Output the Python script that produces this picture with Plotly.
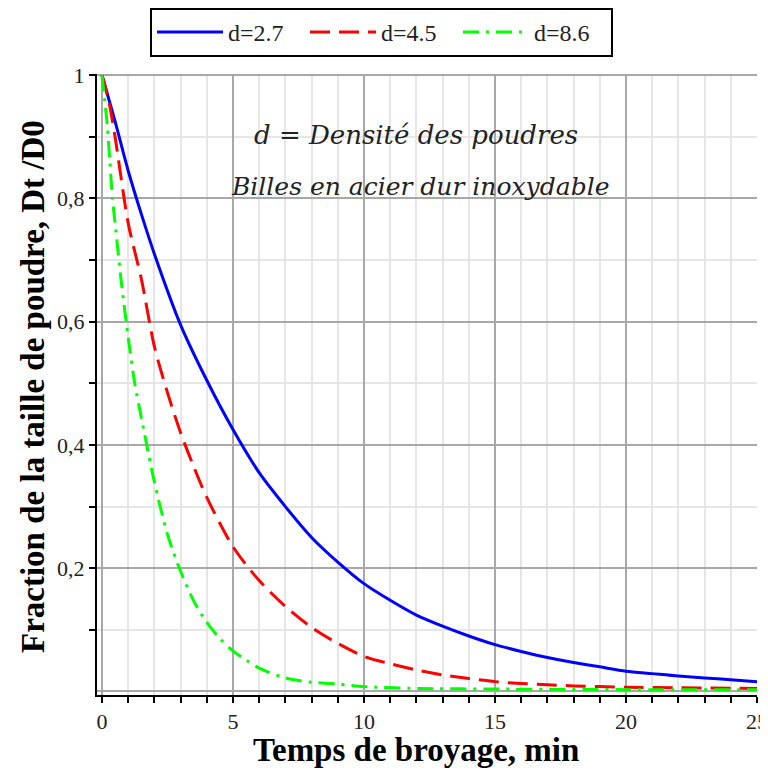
import plotly.graph_objects as go

# ---- data ----
t_blue = [0, 0.5, 1, 1.5, 2, 3, 4, 5, 6, 7, 8, 9, 10, 11, 12, 13, 14, 15, 16, 17, 18, 19, 20, 21, 22, 23, 24, 25]
y_blue = [1.0, 0.925, 0.845, 0.775, 0.71, 0.595, 0.505, 0.425, 0.355, 0.30, 0.25, 0.21, 0.175, 0.148, 0.124,
          0.106, 0.09, 0.076, 0.065, 0.055, 0.047, 0.04, 0.033, 0.029, 0.025, 0.022, 0.019, 0.016]

t_red = [0, 0.25, 0.5, 1, 1.5, 2, 2.5, 3, 3.5, 4, 5, 6, 7, 8, 9, 10, 11, 12, 13, 14, 15, 16, 17, 18, 19, 20, 22, 25]
y_red = [1.0, 0.96, 0.90, 0.76, 0.67, 0.56, 0.485, 0.42, 0.365, 0.315, 0.235, 0.18, 0.138, 0.104, 0.078, 0.057,
         0.045, 0.035, 0.027, 0.021, 0.016, 0.013, 0.011, 0.009, 0.008, 0.007, 0.006, 0.005]

t_green = [0, 0.1, 0.2, 0.3, 0.4, 0.5, 0.75, 1, 1.25, 1.5, 2, 2.5, 3, 3.5, 4, 4.5, 5, 5.5, 6, 7, 8, 9, 10, 12, 15, 20, 25]
y_green = [1.0, 0.96, 0.92, 0.86, 0.80, 0.76, 0.66, 0.575, 0.50, 0.445, 0.34, 0.255, 0.195, 0.147, 0.112, 0.086,
           0.066, 0.051, 0.038, 0.022, 0.015, 0.012, 0.008, 0.005, 0.004, 0.003, 0.003]

series_names = ["d=2.7", "d=4.5", "d=8.6"]
y_tick_vals = [0.2, 0.4, 0.6, 0.8, 1.0]
y_tick_text = ["0,2", "0,4", "0,6", "0,8", "1"]
y_minor_vals = [0.1, 0.3, 0.5, 0.7, 0.9]
x_tick_vals = [0, 5, 10, 15, 20, 25]

fig = go.Figure()
fig.add_trace(go.Scatter(x=t_blue, y=y_blue, mode="lines", name=series_names[0],
                         line=dict(color="#0000ff", width=3, shape="spline", smoothing=0.8)))
fig.add_trace(go.Scatter(x=t_red, y=y_red, mode="lines", name=series_names[1],
                         line=dict(color="#ff0000", width=3, dash="20px,9px", shape="spline", smoothing=0.8)))
fig.add_trace(go.Scatter(x=t_green, y=y_green, mode="lines", name=series_names[2],
                         line=dict(color="#00ff00", width=3, dash="16px,7px,3px,7px", shape="spline", smoothing=0.8)))

tick_font = dict(family="Liberation Serif", size=22, color="#222222")
title_font = dict(family="Liberation Serif", size=33, color="black")

# page body has an 8px margin; figure coordinates = screen coordinates - 8
W, H = 760, 762
PL, PR, PT, PB = 97, 757, 74, 695   # plot area in screen pixels
fig.update_layout(
    width=W, height=H,
    margin=dict(l=PL - 8, r=W - (PR - 8), t=PT - 8, b=H - (PB - 8)),
    paper_bgcolor="white", plot_bgcolor="white",
    showlegend=True,
    legend=dict(orientation="h", xref="container", yref="container",
                x=142 / W, y=1.0, xanchor="left", yanchor="top",
                bgcolor="white", bordercolor="black", borderwidth=2,
                font=dict(family="Liberation Serif", size=24, color="#222222"),
                entrywidth=72, entrywidthmode="pixels", itemwidth=66, tracegroupgap=0),
    xaxis=dict(range=[-0.19, 25], tickmode="array", tickvals=x_tick_vals, automargin=False,
               ticklabeloverflow="allow",
               ticks="outside", ticklen=6, tickwidth=2, tickcolor="black",
               showline=True, linecolor="black", linewidth=2, mirror=False,
               showgrid=True, gridcolor="#a8a8a8", gridwidth=2,
               zeroline=False,
               minor=dict(dtick=1, tick0=0, ticks="outside", ticklen=6, tickwidth=2, tickcolor="black",
                          showgrid=True, gridcolor="#e6e6e6", gridwidth=2),
               tickfont=tick_font),
    yaxis=dict(range=[-0.0057, 1.002], tickmode="array", tickvals=y_tick_vals, ticktext=y_tick_text,
               automargin=False,
               ticks="outside", ticklen=6, tickwidth=2, tickcolor="black",
               showline=True, linecolor="black", linewidth=2,
               showgrid=True, gridcolor="#a8a8a8", gridwidth=2,
               zeroline=True, zerolinecolor="#a8a8a8", zerolinewidth=2,
               minor=dict(tickmode="array", tickvals=y_minor_vals, ticks="outside", ticklen=6, tickwidth=2,
                          tickcolor="black", showgrid=True, gridcolor="#e6e6e6", gridwidth=2),
               tickfont=tick_font),
    annotations=[
        dict(text="<b>Temps de broyage, min</b>", xref="paper", yref="paper",
             x=(416 - PL) / (PR - PL), y=(PB - 750) / (PB - PT), xanchor="center", yanchor="middle",
             showarrow=False, font=title_font),
        dict(text="<b>Fraction de la taille de poudre, Dt /D0</b>", xref="paper", yref="paper",
             x=(33 - PL) / (PR - PL), y=(PB - 387) / (PB - PT), xanchor="center", yanchor="middle",
             textangle=-90, showarrow=False, font=title_font),
        dict(text="<i>d = Densité des poudres</i>", xref="paper", yref="paper",
             x=(416 - PL) / (PR - PL), y=(PB - 135) / (PB - PT), xanchor="center", yanchor="middle",
             showarrow=False, font=dict(family="DejaVu Serif", size=26, color="#222222")),
        dict(text="<i>Billes en acier dur inoxydable</i>", xref="paper", yref="paper",
             x=(420 - PL) / (PR - PL), y=(PB - 186) / (PB - PT), xanchor="center", yanchor="middle",
             showarrow=False, font=dict(family="DejaVu Serif", size=25, color="#222222")),
    ],
)

fig.write_html("out.html")
